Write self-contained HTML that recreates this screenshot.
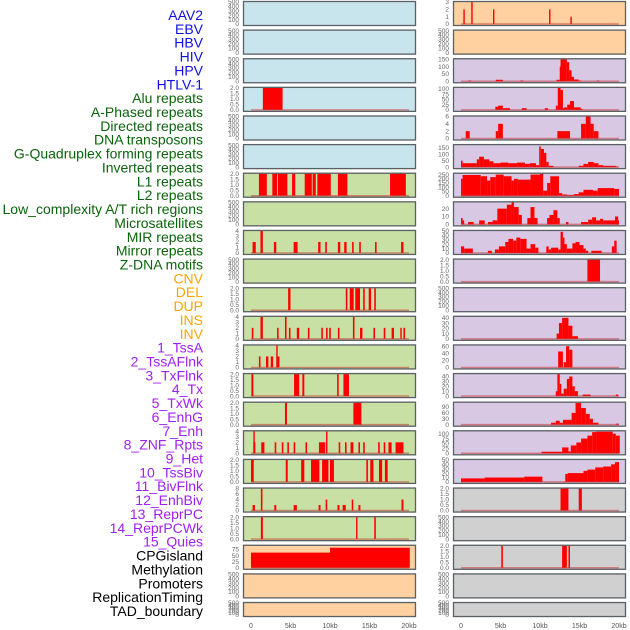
<!DOCTYPE html>
<html><head><meta charset="utf-8">
<style>
html,body{margin:0;padding:0;background:#fff;}
svg{display:block;font-family:"Liberation Sans",sans-serif;}
</style></head>
<body>
<svg id="chart" width="630" height="630" viewBox="0 0 630 630"></svg>
<script>
// ---- labels ----
const labelNames = ["AAV2","EBV","HBV","HIV","HPV","HTLV-1","Alu repeats","A-Phased repeats","Directed repeats","DNA transposons","G-Quadruplex forming repeats","Inverted repeats","L1 repeats","L2 repeats","Low_complexity A/T rich regions","Microsatellites","MIR repeats","Mirror repeats","Z-DNA motifs","CNV","DEL","DUP","INS","INV","1_TssA","2_TssAFlnk","3_TxFlnk","4_Tx","5_TxWk","6_EnhG","7_Enh","8_ZNF_Rpts","9_Het","10_TssBiv","11_BivFlnk","12_EnhBiv","13_ReprPC","14_ReprPCWk","15_Quies","CPGisland","Methylation","Promoters","ReplicationTiming","TAD_boundary"];
const labelGroups = [6,13,5,15,5];
const groupColors = ["#1010e0","#0a640a","#ffa500","#a020f0","#000000"];
const xTicks = [0,5,10,15,20];
const xTickLabels = ["0","5kb","10kb","15kb","20kb"];
const emptyTicks = [0,100,200,300,400,500];

// ---- left column series: [startKb, endKb, value] ----
const L3 = [[1.5,4.0,2]];
const L6 = [[1.0,2.0,2],[2.7,3.3,2],[3.4,4.6,2],[5.2,5.6,2],[6.8,7.7,2],[7.8,8.2,2],[8.4,10.1,2],[11.0,12.2,2],[17.6,19.6,2]];
const L8 = [[0.2,0.6,2],[1.2,1.5,4],[2.9,3.2,2],[5.4,5.9,2],[8.5,8.8,2],[9.4,9.6,2],[11.0,11.3,2],[11.8,12.1,2],[12.8,13.0,2],[13.7,13.9,2],[15.7,15.9,2],[19.0,19.3,2]];
const L10 = [[4.7,5.0,2],[12.0,12.2,2],[12.5,13.0,2],[13.2,13.8,2],[14.2,14.4,2],[14.9,15.2,2],[15.6,15.8,2]];
const L11 = [[0.1,0.3,2],[1.2,1.5,4],[3.3,3.5,2],[4.3,4.5,4],[4.8,5.0,2],[5.8,6.1,2],[7.2,7.4,2],[8.9,9.1,2],[9.5,9.7,2],[9.9,10.1,2],[11.0,11.2,2],[12.9,13.1,4],[13.8,14.1,2],[15.5,15.7,2],[16.8,17.0,2],[17.8,18.1,2],[18.9,19.0,2],[19.3,19.5,2]];
const L12 = [[1.0,1.2,2],[1.9,2.2,2],[2.5,2.8,2],[3.2,3.3,4],[3.35,3.6,2]];
const L13 = [[0.05,0.3,2],[5.45,6.1,2],[6.5,6.75,2],[10.9,11.1,2],[11.7,12.4,2]];
const L14 = [[4.3,4.55,2],[12.96,13.97,2]];
const L15 = [[0.3,0.45,4],[0.3,0.55,2],[1.3,1.7,2],[3.0,3.2,2],[3.9,4.1,2],[4.6,4.8,2],[5.4,5.6,2],[6.9,7.1,2],[8.6,9.4,2],[9.5,9.65,4],[11.1,11.3,2],[11.9,12.1,2],[12.6,12.96,2],[13.6,13.8,2],[14.2,14.4,2],[16.1,16.3,2],[16.8,17.0,2],[17.4,17.8,2],[18.3,19.3,2]];
const L16 = [[0.0,0.35,2],[4.4,4.65,2],[6.35,6.75,2],[7.6,8.65,2],[9.0,9.8,2],[10.0,10.5,2],[14.6,14.8,2],[15.1,15.5,2],[16.2,16.6,2],[16.95,17.3,2]];
const L17 = [[0.2,0.5,2],[1.25,1.45,8],[2.95,3.2,2],[5.4,5.8,2],[8.55,8.8,2],[9.45,9.65,4],[10.95,11.2,2],[11.6,12.0,2],[12.75,12.95,4],[13.6,13.85,2],[19.05,19.3,4]];
const L18 = [[1.25,1.5,2],[13.3,13.45,2],[15.6,15.8,2]];
const L19 = [[0.0,10.0,62],[10.0,20.1,82]];

// ---- right column series ----
const R0 = [[0.3,0.45,2],[1.3,1.42,3],[4.05,4.2,2],[11.15,11.3,2],[13.85,14.0,1]];
const R2 = [[0.9,1.3,5],[4.4,5.3,10],[7.5,7.9,5],[12.1,12.5,10],[12.5,12.6,100],[12.6,13.4,150],[13.4,13.7,130],[13.7,14.0,75],[14.0,14.3,30],[14.3,14.9,12],[14.9,15.2,5],[17.2,17.5,5]];
const R3 = [[4.35,4.7,15],[4.7,5.3,20],[5.3,6.2,8],[7.7,8.3,8],[10.6,11.0,8],[12.0,12.25,20],[12.25,12.6,105],[12.6,12.9,95],[12.9,13.05,8],[13.05,13.45,12],[13.45,13.8,25],[13.8,14.3,42],[14.3,15.15,12],[15.15,15.4,5]];
const R4 = [[0.6,1.1,2],[4.4,4.7,2],[4.7,5.3,4],[12.2,13.8,2],[15.2,15.8,4],[15.8,16.4,6],[16.4,16.8,4],[16.8,17.4,2]];
const R5 = [[0.0,0.2,50],[0.2,2.0,30],[2.0,2.3,60],[2.3,2.9,80],[2.9,3.6,60],[3.6,4.1,45],[4.1,5.0,30],[5.0,6.0,35],[6.0,7.1,30],[7.1,8.1,35],[8.1,8.7,25],[8.7,9.5,30],[9.5,9.9,15],[9.9,10.1,160],[10.1,10.5,140],[10.5,10.8,110],[10.8,11.1,40],[11.1,11.7,10],[14.9,15.5,10],[15.5,16.1,25],[16.1,16.8,40],[16.8,17.4,30],[17.4,18.0,15],[18.0,19.6,10],[19.6,19.9,5]];
const R6 = [[0.0,0.2,200],[0.2,2.5,245],[2.5,3.3,230],[3.3,3.7,180],[3.7,4.4,220],[4.4,5.4,250],[5.4,6.4,230],[6.4,6.7,180],[6.7,7.2,200],[7.2,8.8,190],[8.8,10.0,250],[10.0,10.4,260],[10.4,10.9,60],[10.9,11.3,150],[11.3,12.4,230],[12.4,12.8,30],[12.8,13.4,15],[13.4,14.3,10],[14.3,14.9,20],[14.9,15.5,40],[15.5,16.7,70],[16.7,17.3,60],[17.3,19.4,90],[19.4,20.0,80]];
const R7 = [[0.0,0.2,8],[0.2,0.4,5],[0.9,1.6,3],[2.3,3.0,5],[3.4,4.0,3],[4.0,4.6,5],[4.6,5.8,20],[5.8,6.4,25],[6.4,6.7,28],[6.7,7.3,22],[7.3,7.7,12],[8.4,8.8,8],[8.8,9.3,22],[9.3,9.7,8],[10.9,11.2,8],[11.2,11.7,12],[11.7,12.2,18],[12.2,12.5,8],[13.3,13.6,3],[15.2,16.1,3],[16.1,16.6,6],[16.6,17.1,9],[17.1,17.6,5],[17.6,18.0,7],[18.0,20.0,5],[19.5,19.9,10]];
const R8 = [[0.0,0.4,15],[0.4,1.5,10],[3.4,3.9,5],[4.3,4.8,8],[4.8,5.6,15],[5.6,6.0,25],[6.0,6.6,32],[6.6,7.0,28],[7.0,7.5,35],[7.5,8.3,32],[8.3,8.8,10],[8.8,9.4,20],[9.4,9.8,12],[10.8,11.1,15],[11.1,11.4,8],[11.4,12.3,12],[12.3,12.6,8],[12.6,12.9,48],[12.9,13.1,35],[13.1,13.4,20],[13.4,14.1,10],[14.1,14.5,22],[14.5,15.0,25],[15.0,15.5,18],[15.5,15.8,10],[15.8,16.1,5],[16.5,17.8,5],[19.1,19.4,15],[19.4,19.7,28]];
const R9 = [[16.0,17.6,2]];
const R11 = [[12.1,12.4,10],[12.4,12.8,30],[12.8,13.6,40],[13.6,14.1,25],[14.1,14.8,5]];
const R12 = [[12.3,12.9,45],[13.0,13.3,15],[13.3,13.7,60],[13.7,14.1,50]];
const R13 = [[12.0,12.2,10],[12.2,12.5,45],[12.5,12.7,25],[12.7,13.0,5],[13.0,13.4,15],[13.4,13.7,35],[13.7,14.1,40],[14.1,14.4,20],[14.4,14.8,10],[15.4,16.4,3],[19.6,19.9,3]];
const R14 = [[11.4,12.0,10],[12.0,12.5,20],[12.5,12.9,10],[12.9,14.0,25],[14.0,14.5,60],[14.5,15.2,110],[15.2,15.8,85],[15.8,16.3,55],[16.3,16.7,30],[16.7,17.4,10],[19.6,20.0,5]];
const R15 = [[10.2,12.8,8],[12.8,13.6,30],[13.6,13.9,10],[13.9,14.6,40],[14.6,15.2,55],[15.2,16.0,75],[16.0,16.6,90],[16.6,17.1,108],[17.1,19.2,110],[19.2,19.6,100],[19.6,20.1,90]];
const R16 = [[0.0,3.0,8],[3.0,8.0,10],[8.0,10.3,12],[13.2,13.5,18],[13.5,15.5,20],[15.5,16.0,25],[16.0,17.0,28],[17.0,18.0,33],[18.0,19.0,35],[19.0,19.5,40],[19.5,20.0,45]];
const R17 = [[12.6,13.6,2],[14.9,15.3,2]];
const R19 = [[5.1,5.3,2],[12.8,13.4,2],[13.6,13.8,2]];

// ---- tick sets ----
const T2 = [0,0.5,1,1.5,2];
const T4 = [0,1,2,3,4];

const BLUE="#c8e4ec", GREEN="#c8e0a4", ORANGE="#ffd0a0", PURPLE="#d8c8e4", GRAY="#d0d0d0";
// [column, row, bg, series, ymax, ticks, name]
const panels = [
 [0,0,BLUE,null,500,emptyTicks,"aav2"],[0,1,BLUE,null,500,emptyTicks,"ebv"],[0,2,BLUE,null,500,emptyTicks,"hbv"],
 [0,3,BLUE,L3,2,T2,"hiv"],[0,4,BLUE,null,500,emptyTicks,"hpv"],[0,5,BLUE,null,500,emptyTicks,"htlv1"],
 [0,6,GREEN,L6,2,T2,"l1"],[0,7,GREEN,null,500,emptyTicks,"g7"],[0,8,GREEN,L8,4,T4,"g8"],
 [0,9,GREEN,null,500,emptyTicks,"g9"],[0,10,GREEN,L10,2,T2,"g10"],[0,11,GREEN,L11,4,T4,"g11"],
 [0,12,GREEN,L12,4,T4,"g12"],[0,13,GREEN,L13,2,T2,"g13"],[0,14,GREEN,L14,2,T2,"g14"],
 [0,15,GREEN,L15,4,T4,"g15"],[0,16,GREEN,L16,2,T2,"g16"],[0,17,GREEN,L17,8,[0,2,4,6,8],"g17"],
 [0,18,GREEN,L18,2,T2,"g18"],[0,19,ORANGE,L19,90,[0,25,50,75],"cpgisland"],[0,20,ORANGE,null,500,emptyTicks,"o20"],
 [0,21,ORANGE,null,500,emptyTicks,"o21"],
 [1,0,ORANGE,R0,3,[0,1,2,3],"r0"],[1,1,ORANGE,null,500,emptyTicks,"r1"],[1,2,PURPLE,R2,150,[0,50,100,150],"r2"],
 [1,3,PURPLE,R3,105,[0,25,50,75,100],"r3"],[1,4,PURPLE,R4,6,[0,2,4,6],"r4"],[1,5,PURPLE,R5,170,[0,50,100,150],"r5"],
 [1,6,PURPLE,R6,260,[0,50,100,150,200,250],"r6"],[1,7,PURPLE,R7,28,[0,10,20],"r7"],[1,8,PURPLE,R8,50,[0,10,20,30,40,50],"r8"],
 [1,9,PURPLE,R9,2,T2,"r9"],[1,10,PURPLE,null,500,emptyTicks,"r10"],[1,11,PURPLE,R11,42,[0,10,20,30,40],"r11"],
 [1,12,PURPLE,R12,62,[0,20,40,60],"r12"],[1,13,PURPLE,R13,45,[0,10,20,30,40],"r13"],[1,14,PURPLE,R14,112,[0,30,60,90],"r14"],
 [1,15,PURPLE,R15,112,[0,25,50,75,100],"r15"],[1,16,PURPLE,R16,50,[0,10,20,30,40,50],"r16"],[1,17,GRAY,R17,2,T2,"r17"],
 [1,18,GRAY,null,500,emptyTicks,"r18"],[1,19,GRAY,R19,2,T2,"r19"],[1,20,GRAY,null,500,emptyTicks,"r20"],
 [1,21,GRAY,null,500,emptyTicks,"r21"]
];

const NS="http://www.w3.org/2000/svg";
const svg=document.getElementById("chart");
function mk(tag,attrs,parent){const e=document.createElementNS(NS,tag);for(const k in attrs)e.setAttribute(k,attrs[k]);(parent||svg).appendChild(e);return e;}

// labels
let li=0;
labelGroups.forEach((n,g)=>{for(let k=0;k<n;k++){
  const t=mk("text",{x:203,y:20+li*13.86,"text-anchor":"end","font-size":"14",fill:groupColors[g]});
  t.textContent=labelNames[li];
  
  
  li++;}});

const colX=[243,453], panelW=173;
function xScale(col,kb){return colX[col]+8+kb*7.9;}
function rowTop(r){return 1+r*28.62;}
function rowH(r){return r===21?15:25;}

panels.forEach(p=>{
  const [col,row,bg,series,ymax,ticks,name]=p;
  const top=rowTop(row),h=rowH(row),bottom=top+h;
  const y0=bottom-2,y1=top+1;
  const yScale=v=>y0-(v/ymax)*(y0-y1);
  const g=mk("g",{});
  
  
  const bgr=mk("rect",{x:colX[col],y:top,width:panelW,height:h,fill:bg},g);
  
  
  if(series){
    series.forEach(s=>{
      const xa=xScale(col,s[0]),xb=xScale(col,s[1]);
      const r=mk("rect",{x:xa,y:yScale(s[2]),width:Math.max(1.4,xb-xa),height:y0-yScale(s[2]),fill:"#ff0000"},g);
      
      
    });
    const bl=mk("line",{x1:xScale(col,0),x2:xScale(col,20),y1:y0,y2:y0,stroke:"rgba(200,40,40,0.5)","stroke-width":1.5},g);
    
    
  }
  const br=mk("rect",{x:colX[col]+0.5,y:top+0.5,width:panelW-1,height:h-1,fill:"none",stroke:"#5a6064","stroke-width":1.3},g);
  
  
  ticks.forEach(tv=>{
    const t=mk("text",{x:colX[col]-4,y:yScale(tv)+2.2,"text-anchor":"end","font-size":"6.5",fill:"#666"},g);
    t.textContent=String(tv).replace(/^(\d)$/,"$1").replace(/^0\.5$/,"0.5");
    if(ymax<=2) t.textContent=tv.toFixed(1);
    
    
  });
});

// x axis ticks
[0,1].forEach(col=>{
  xTicks.forEach((kb,i)=>{
    const t=mk("text",{x:xScale(col,kb),y:628,"text-anchor":"middle","font-size":"7",fill:"#555"});
    t.textContent=xTickLabels[i];
    
    
  });
});
</script>
</body></html>
